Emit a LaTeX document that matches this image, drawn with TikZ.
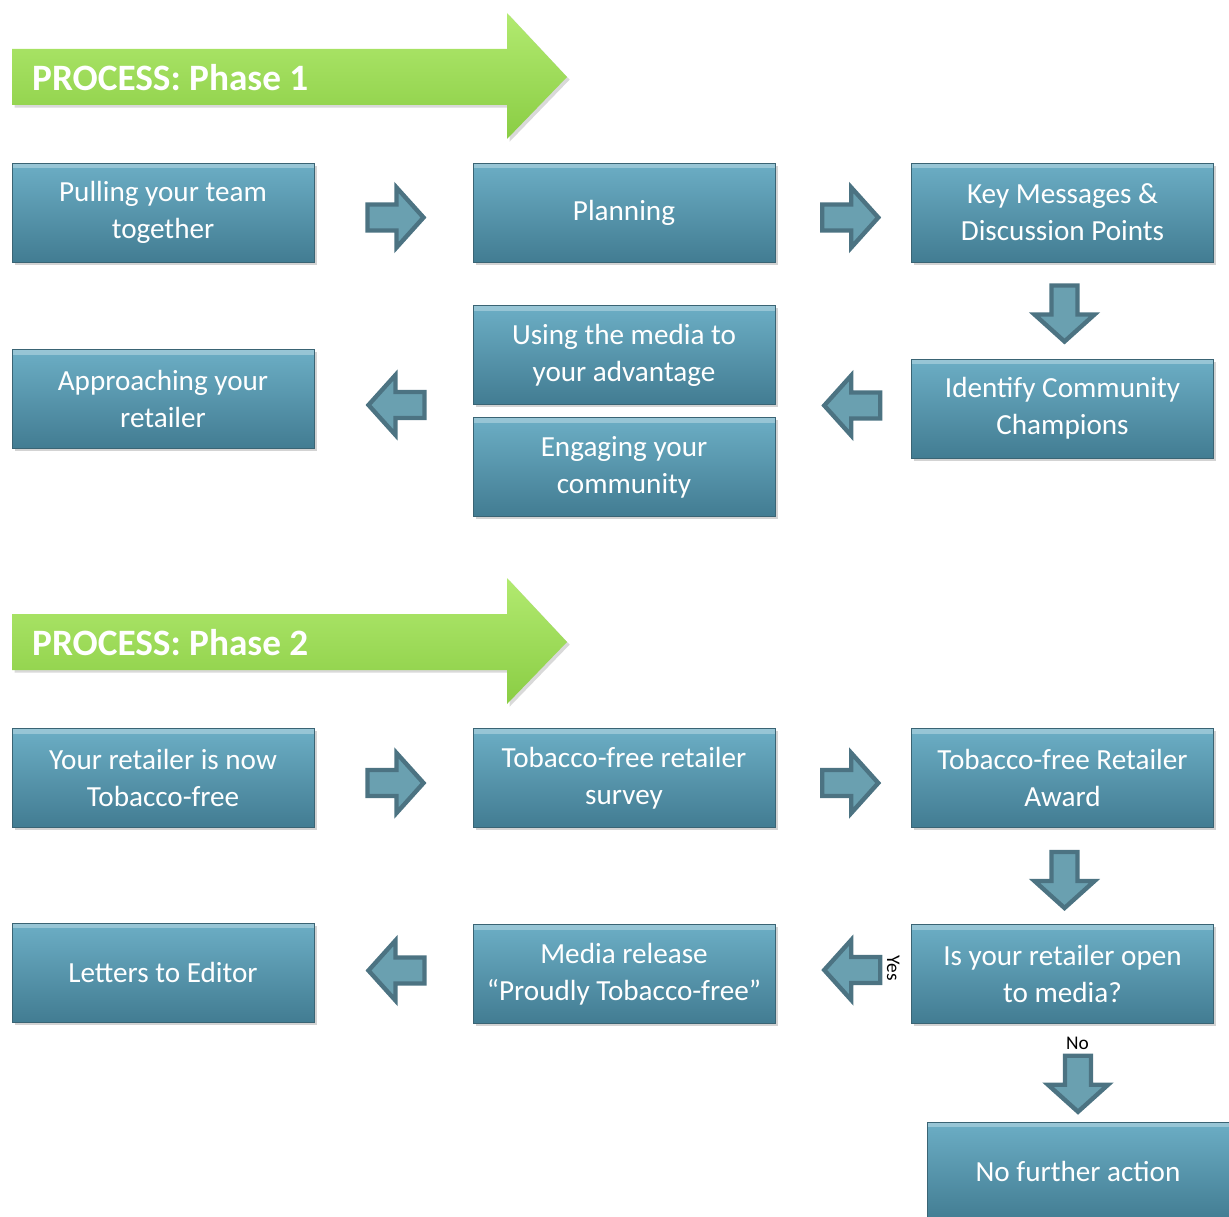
\documentclass[tikz,border=0pt]{standalone}
\usepackage{fontspec}
\setmainfont{Carlito}
\usetikzlibrary{shadows}
\usetikzlibrary{calc}

\definecolor{boxtop}{RGB}{108,174,197}
\definecolor{boxbot}{RGB}{66,124,146}
\definecolor{boxedge}{RGB}{58,100,116}
\definecolor{arrowfill}{RGB}{106,160,176}
\definecolor{arrowedge}{RGB}{76,115,130}
\definecolor{phasetop}{RGB}{178,234,112}
\definecolor{phasebot}{RGB}{138,205,68}

\begin{document}
\begin{tikzpicture}[x=0.02cm, y=-0.02cm,
  stepbox/.style={draw=boxedge, line width=0.4pt, top color=boxtop, bottom color=boxbot,
    minimum width=6.04cm, minimum height=1.98cm, align=center, text=white,
    font=\fontsize{16.6}{21}\selectfont,
    drop shadow={opacity=0.35, shadow xshift=1.5pt, shadow yshift=-1.5pt},
    path picture={\fill[white, opacity=0.3] (path picture bounding box.north west)
      rectangle ([yshift=-3pt]path picture bounding box.north east);}},
  phasetext/.style={anchor=west, text=white, font=\fontsize{21.2}{25}\selectfont\bfseries},
  smalllabel/.style={font=\fontsize{11}{13}\selectfont, inner sep=1pt},
  blockarrow/.pic={\path[fill=arrowfill, draw=arrowedge, line width=2.5pt, line join=miter]
    (-29,-13) -- (0,-13) -- (0,-30) -- (27,0) -- (0,30) -- (0,13) -- (-29,13) -- cycle;},
  phasearrow/.pic={\path[top color=phasetop, bottom color=phasebot,
    drop shadow={opacity=0.3, shadow xshift=1.5pt, shadow yshift=-1.5pt}]
    (0,-28) -- (495,-28) -- (495,-64) -- (555,0) -- (495,62) -- (495,28) -- (0,28) -- cycle;}]
\useasboundingbox (0,0) rectangle (1229,1216);

\pic at (12,77) {phasearrow};
\node[phasetext] (phase1) at (26,78) {PROCESS: Phase 1};

\node[stepbox] (pull) at (163,212.5) {Pulling your team\\together};
\node[stepbox] (plan) at (624,212.5) {Planning};
\node[stepbox] (key) at (1062.5,212.5) {Key Messages \&\\Discussion Points};
\node[stepbox] (ident) at (1062.5,408.5) {Identify Community\\Champions};
\node[stepbox] (using) at (624,355) {Using the media to\\your advantage};
\node[stepbox] (engage) at (624,467) {Engaging your\\community};
\node[stepbox] (appr) at (163,399) {Approaching your\\retailer};

\pic at ($(pull.east)!0.5!(plan.west)+(3,5)$) {blockarrow};
\pic at ($(plan.east)!0.5!(key.west)+(8,5)$) {blockarrow};
\pic[rotate=-90] at ($(key.south)!0.5!(ident.north)+(2,4)$) {blockarrow};
\pic[rotate=180] at ($(ident.west)!0.5!(ident.west -| using.east)+(8,-3)$) {blockarrow};
\pic[rotate=180] at ($(appr.east)!0.5!(appr.east -| using.west)+(2,6)$) {blockarrow};

\pic at (12,642) {phasearrow};
\node[phasetext] (phase2) at (26,643) {PROCESS: Phase 2};

\node[stepbox] (now) at (163,778) {Your retailer is now\\Tobacco-free};
\node[stepbox] (survey) at (624,778) {Tobacco-free retailer\\survey};
\node[stepbox] (award) at (1062.5,778) {Tobacco-free Retailer\\Award};
\node[stepbox] (open) at (1062.5,974) {Is your retailer open\\to media?};
\node[stepbox] (media) at (624,974) {Media release\\“Proudly Tobacco-free”};
\node[stepbox] (letters) at (163,972.5) {Letters to Editor};
\node[stepbox] (none) at (1078,1171.5) {No further action};

\pic at ($(now.east)!0.5!(survey.west)+(3,5)$) {blockarrow};
\pic at ($(survey.east)!0.5!(award.west)+(8,5)$) {blockarrow};
\pic[rotate=-90] at ($(award.south)!0.5!(open.north)+(2,5)$) {blockarrow};
\pic[rotate=180] at ($(open.west)!0.5!(media.east)+(8,-4)$) {blockarrow};
\pic[rotate=180] at ($(letters.east)!0.5!(letters.east -| media.west)+(2,-2)$) {blockarrow};
\pic[rotate=-90] at ($(open.south -| none.north)!0.5!(none.north)+(0,12)$) {blockarrow};

\node[smalllabel, rotate=-90] (yes) at ($(open.west)+(-18,-6)$) {Yes};
\node[smalllabel] (no) at ($(open.south)+(15,20)$) {No};
\end{tikzpicture}
\end{document}
